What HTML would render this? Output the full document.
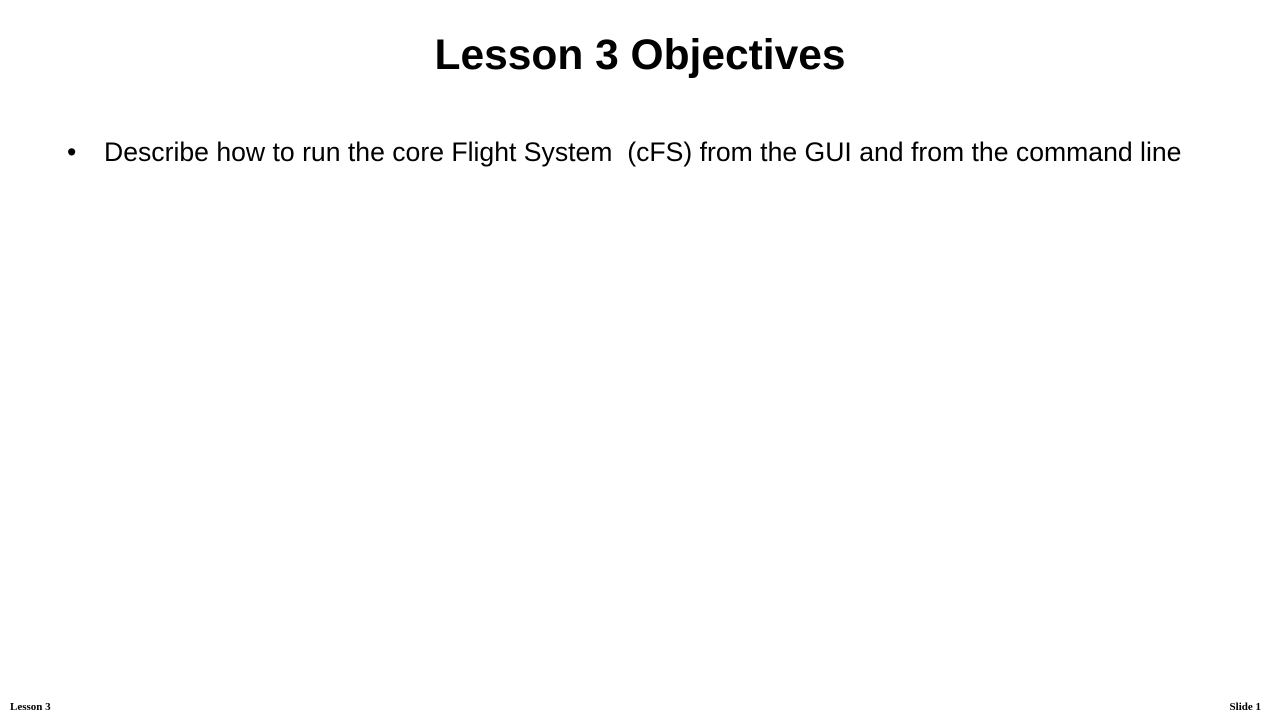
<!DOCTYPE html>
<html><head><style>
body{margin:0;width:1280px;height:720px;background:#fff;position:relative;overflow:hidden;font-family:"Liberation Sans",sans-serif}
.t{position:absolute;left:0;width:1280px;top:30px;text-align:center;font-weight:bold;font-size:42.5px;color:#000;line-height:52px}
.b{position:absolute;left:67px;top:135px;font-size:26.6px;line-height:34px;color:#000;white-space:nowrap}
.b span{display:inline-block;width:37px}
.f{position:absolute;top:701px;font-family:"Liberation Serif",serif;font-weight:bold;font-size:11px}
</style></head><body>
<div class="t">Lesson 3 Objectives</div>
<div class="b"><span>•</span>Describe how to run the core Flight System&nbsp; (cFS) from the GUI and from the command line</div>
<div class="f" style="left:10px">Lesson 3</div>
<div class="f" style="right:19px">Slide 1</div>
</body></html>
